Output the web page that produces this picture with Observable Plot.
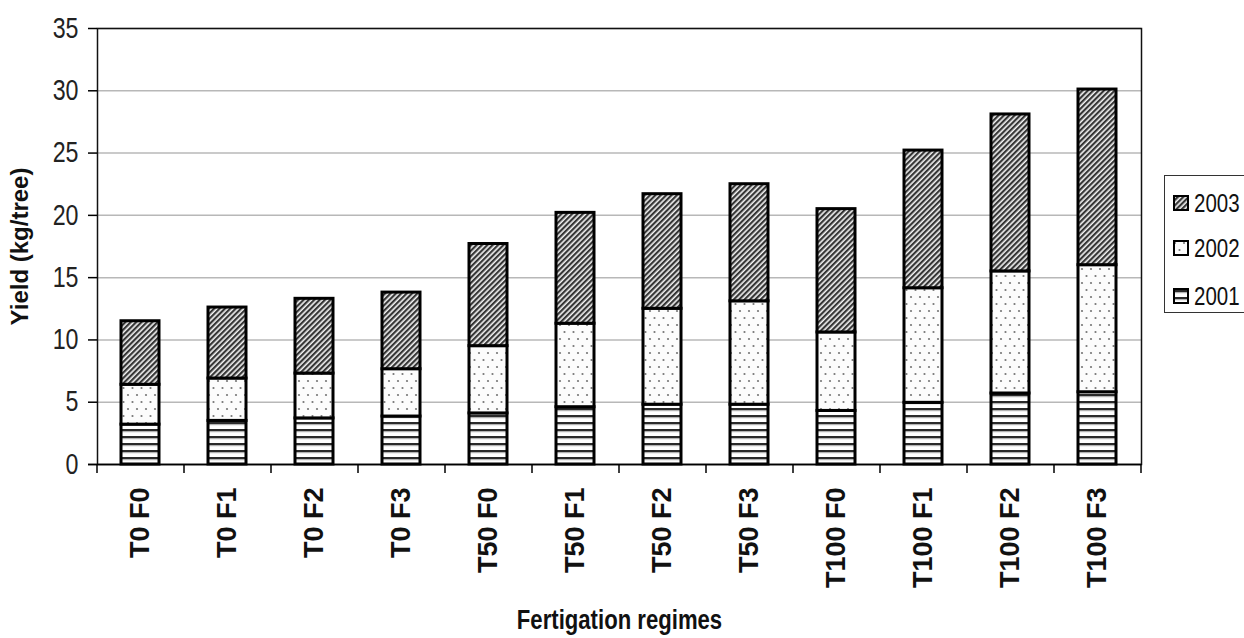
<!DOCTYPE html>
<html>
<head>
<meta charset="utf-8">
<script src="https://cdn.jsdelivr.net/npm/d3@7"></script>
<script src="https://cdn.jsdelivr.net/npm/@observablehq/plot@0.6"></script>
<style>
  html, body { margin: 0; padding: 0; background: #fff; }
  #wrap { position: relative; width: 1244px; height: 638px; overflow: hidden; }
  #legend {
    position: absolute; left: 1164px; top: 175px; width: 100px; height: 138px;
    border: 1.5px solid #333; background: #fff; box-sizing: border-box;
    font-family: "Liberation Sans", Arial, sans-serif;
    font-size: 25px; color: #111;
  }
  .entry { position: absolute; left: 8px; display: flex; align-items: center; height: 24px; white-space: nowrap; }
  .entry svg { margin-right: 5px; flex: none; }
  .entry span { display: inline-block; transform: scaleX(0.82); transform-origin: left center; }
</style>
</head>
<body>
<svg width="0" height="0" style="position:absolute">
  <defs>
    <pattern id="pat2001" patternUnits="userSpaceOnUse" width="8" height="7">
      <rect width="8" height="7" fill="#ffffff"/>
      <rect y="2" width="8" height="2.2" fill="#2a2a2a"/>
      <rect y="4.2" width="8" height="1" fill="#aaaaaa"/>
    </pattern>
    <pattern id="pat2002" patternUnits="userSpaceOnUse" width="9" height="14">
      <rect width="9" height="14" fill="#fcfcfc"/>
      <circle cx="2" cy="3" r="1.1" fill="#777"/>
      <circle cx="6.5" cy="10" r="1.1" fill="#777"/>
    </pattern>
    <pattern id="pat2003" patternUnits="userSpaceOnUse" width="3.8" height="3.8" patternTransform="rotate(45)">
      <rect width="3.8" height="3.8" fill="#f2f2f2"/>
      <rect width="2.2" height="3.8" fill="#363636"/>
    </pattern>
  </defs>
</svg>
<div id="wrap">
  <div id="chart"></div>
  <div id="legend"></div>
</div>
<script>
const categories = ["T0 F0","T0 F1","T0 F2","T0 F3","T50 F0","T50 F1","T50 F2","T50 F3","T100 F0","T100 F1","T100 F2","T100 F3"];
const years = ["2001","2002","2003"];
const y2001 = [3.2, 3.5, 3.7, 3.85, 4.1, 4.6, 4.8, 4.8, 4.3, 4.95, 5.7, 5.8];
const y2002 = [3.2, 3.4, 3.6, 3.8, 5.4, 6.7, 7.7, 8.3, 6.3, 9.2, 9.8, 10.2];
const y2003 = [5.1, 5.7, 6.0, 6.15, 8.2, 8.9, 9.2, 9.4, 9.9, 11.05, 12.6, 14.1];
const yTicks = [0, 5, 10, 15, 20, 25, 30, 35];
const yTitle = "Yield (kg/tree)";
const xTitle = "Fertigation regimes";
const patterns = ["url(#pat2001)", "url(#pat2002)", "url(#pat2003)"];

const series = [y2001, y2002, y2003];
const rows = [];
categories.forEach((c, i) => {
  years.forEach((yr, j) => rows.push({category: c, year: yr, value: series[j][i]}));
});

const sans = "'Liberation Sans', Arial, sans-serif";

const W = 1244, H = 638;
const mL = 97, mR = 103, mT = 28, mB = 174;
const step = (W - mL - mR) / categories.length;

const chart = Plot.plot({
  width: W,
  height: H,
  marginLeft: mL,
  marginRight: mR,
  marginTop: mT,
  marginBottom: mB,
  style: {background: "#fff", color: "#000", fontFamily: sans},
  x: {domain: categories, paddingInner: 0.56, paddingOuter: 0.28, axis: null},
  y: {domain: [0, 35], axis: null},
  color: {type: "ordinal", domain: years, range: patterns},
  marks: [
    Plot.gridY(yTicks, {stroke: "#b8b8b8", strokeOpacity: 1, strokeWidth: 1.5}),
    Plot.barY(rows, Plot.stackY({x: "category", y: "value", fill: "year", stroke: "#000", strokeWidth: 3})),
    Plot.frame({stroke: "#111", strokeWidth: 1.5}),
    Plot.ruleY([0], {stroke: "#000", strokeWidth: 1.5, insetLeft: -9}),
    Plot.ruleX(categories, {x: d => d, dx: -step / 2, stroke: "#000", strokeWidth: 1.5, insetTop: H - mT - mB, insetBottom: -9}),
    Plot.ruleX([categories[categories.length - 1]], {x: d => d, dx: step / 2, stroke: "#000", strokeWidth: 1.5, insetTop: H - mT - mB, insetBottom: -9}),
    Plot.axisY(yTicks, {anchor: "left", tickSize: 9, tickPadding: 10, fontSize: 29, fontFamily: sans, label: null, stroke: "#000", strokeWidth: 1.5, fill: "#222"}),
    Plot.axisX({anchor: "bottom", tickRotate: -90, tickSize: 0, tickPadding: 23, fontSize: 27, fontWeight: "bold", fontFamily: sans, label: null, fill: "#111"}),
    Plot.text([yTitle], {frameAnchor: "left", textAnchor: "middle", dx: -77, rotate: -90, fontSize: 24, fontWeight: "bold", fontFamily: sans, fill: "#111"}),
    Plot.text([xTitle], {frameAnchor: "bottom", textAnchor: "middle", dy: 164, fontSize: 27, fontWeight: "bold", fontFamily: sans, fill: "#111"})
  ]
});
document.getElementById("chart").appendChild(chart);

// condense horizontal texts (reference uses a narrow face)
function condense(node, k) {
  const t = node.getAttribute("transform");
  if (t && t.includes("translate")) {
    node.setAttribute("transform", t + ` scale(${k},1)`);
  } else {
    const x = +(node.getAttribute("x") || 0), y = +(node.getAttribute("y") || 0);
    node.removeAttribute("x"); node.removeAttribute("y");
    node.setAttribute("transform", (t ? t + " " : "") + `translate(${x},${y}) scale(${k},1)`);
  }
}
const svg = d3.select(chart);
svg.selectAll('g[aria-label="y-axis tick label"] text').each(function() { condense(this, 0.8); });
svg.selectAll("text").filter(function() { return this.textContent === xTitle; }).each(function() { condense(this, 0.82); });

const legend = document.getElementById("legend");
const order = ["2003", "2002", "2001"];
const tops = [15, 60, 108];
order.forEach((yr, k) => {
  const e = document.createElement("div");
  e.className = "entry";
  e.style.top = tops[k] + "px";
  const idx = years.indexOf(yr);
  e.innerHTML = `<svg width="16" height="16"><rect x="1" y="1" width="14" height="14" fill="${patterns[idx]}" stroke="#000" stroke-width="2"/></svg><span>${yr}</span>`;
  legend.appendChild(e);
});
</script>
</body>
</html>
